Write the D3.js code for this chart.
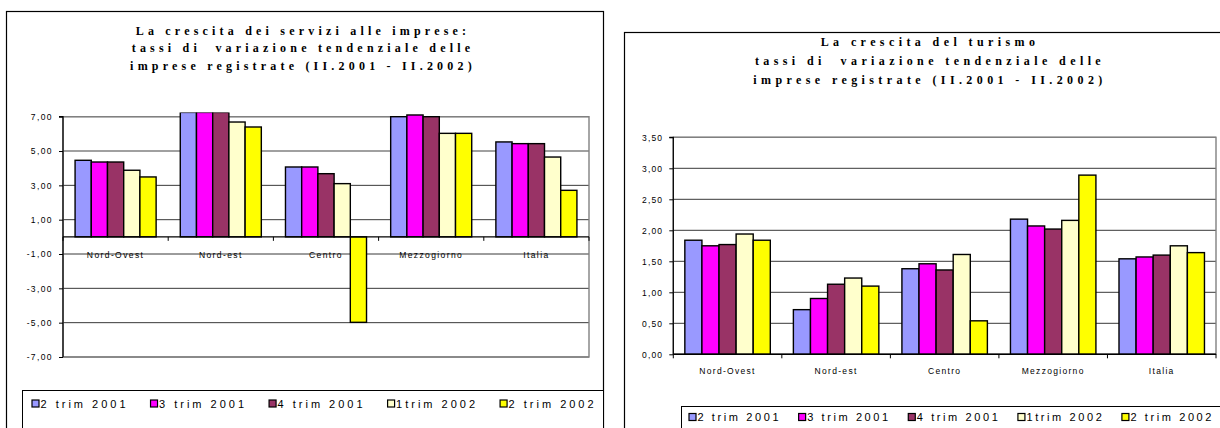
<!DOCTYPE html>
<html>
<head>
<meta charset="utf-8">
<script src="https://cdn.jsdelivr.net/npm/d3@7"></script>
<style>
  html, body { margin: 0; padding: 0; background: #fff; }
  svg { display: block; }
  text { white-space: pre; }
</style>
</head>
<body>
<svg id="chart" width="1220" height="428"></svg>
<script>
// ---------- DATA ----------
const categories = ["Nord-Ovest", "Nord-est", "Centro", "Mezzogiorno", "Italia"];
const seriesNames = ["2 trim 2001", "3 trim 2001", "4 trim 2001", "1trim 2002", "2 trim 2002"];
const seriesColors = ["#9999FF", "#FF00FF", "#993366", "#FFFFCC", "#FFFF00"];

// Servizi alle imprese (left chart) – Nord-est first three bars run past the top of the axis
const servizi_2trim2001 = [4.46, 7.25, 4.07, 7.00, 5.53];
const servizi_3trim2001 = [4.36, 7.25, 4.07, 7.10, 5.43];
const servizi_4trim2001 = [4.36, 7.25, 3.68, 7.00, 5.43];
const servizi_1trim2002 = [3.88, 6.69, 3.10, 6.03, 4.65];
const servizi_2trim2002 = [3.49, 6.40, -4.98, 6.03, 2.71];
const serviziTicks = [-7, -5, -3, -1, 1, 3, 5, 7];
const serviziTitle = ["La crescita dei servizi alle imprese:",
                      "tassi di  variazione tendenziale delle",
                      "imprese registrate (II.2001 - II.2002)"];

// Turismo (right chart)
const turismo_2trim2001 = [1.84, 0.72, 1.38, 2.18, 1.54];
const turismo_3trim2001 = [1.75, 0.90, 1.46, 2.07, 1.57];
const turismo_4trim2001 = [1.77, 1.13, 1.36, 2.02, 1.60];
const turismo_1trim2002 = [1.94, 1.23, 1.61, 2.16, 1.75];
const turismo_2trim2002 = [1.84, 1.10, 0.54, 2.89, 1.64];
const turismoTicks = [0, 0.5, 1, 1.5, 2, 2.5, 3, 3.5];
const turismoTitle = ["La crescita del turismo",
                      "tassi di  variazione tendenziale delle",
                      "imprese registrate (II.2001 - II.2002)"];

// ---------- DRAWING ----------
const svg = d3.select("#chart");
const fmt = v => d3.format(".2f")(v).replace(".", ",").replace("−", "-");

function drawChart(o) {
  const g = svg.append("g");
  // outer frame
  g.append("rect").attr("x", o.frame[0]).attr("y", o.frame[1])
    .attr("width", o.frame[2]).attr("height", o.frame[3])
    .attr("fill", "#fff").attr("stroke", "#000").attr("stroke-width", 1.2);

  // title
  g.append("g").selectAll("text").data(o.title).join("text")
    .attr("x", o.titleX).attr("y", (d, i) => o.titleY + i * o.titleDy)
    .attr("text-anchor", "middle")
    .attr("font-family", "Liberation Serif, serif").attr("font-weight", "bold")
    .attr("font-size", 12).attr("letter-spacing", o.titleLs)
    .attr("fill", "#000").text(d => d);

  const y = d3.scaleLinear().domain(o.yDomain).range([o.bottom, o.top]);
  const x0 = d3.scaleBand().domain(categories).range([o.left, o.right]).padding(0);
  const x1 = d3.scaleBand().domain(seriesNames).range([0, x0.bandwidth()])
    .paddingInner(0).paddingOuter(o.outerPad);

  // gridlines
  g.append("g").selectAll("line").data(o.ticks).join("line")
    .attr("x1", o.left).attr("x2", o.right)
    .attr("y1", d => y(d)).attr("y2", d => y(d))
    .attr("stroke", d => o.grayGrid.includes(d) ? "#808080" : "#222")
    .attr("stroke-width", d => o.grayGrid.includes(d) ? 1.6 : 0.9);

  // plot border in gray
  g.append("rect").attr("x", o.left).attr("y", o.top)
    .attr("width", o.right - o.left).attr("height", o.bottom - o.top)
    .attr("fill", "none").attr("stroke", "#808080").attr("stroke-width", 1.4);

  // category labels
  g.append("g").selectAll("text").data(categories).join("text")
    .attr("x", d => x0(d) + x0.bandwidth() / 2)
    .attr("y", o.catLabelY)
    .attr("text-anchor", "middle")
    .attr("font-family", "Liberation Sans, Arial, sans-serif")
    .attr("font-size", 8.5).attr("letter-spacing", o.catLs).attr("fill", "#000")
    .text(d => d);

  // bars
  const clipId = "clip" + o.id;
  svg.append("defs").append("clipPath").attr("id", clipId)
    .append("rect").attr("x", o.left).attr("y", y(o.clipMax))
    .attr("width", o.right - o.left).attr("height", o.bottom - y(o.clipMax) + 2);

  const bars = g.append("g").attr("clip-path", `url(#${clipId})`);
  o.series.forEach((vals, si) => {
    bars.append("g").selectAll("rect").data(vals.map((v, ci) => ({v, c: categories[ci]})))
      .join("rect")
      .attr("x", d => x0(d.c) + x1(seriesNames[si]))
      .attr("y", d => y(Math.max(0, d.v)))
      .attr("width", x1.bandwidth())
      .attr("height", d => Math.abs(y(d.v) - y(0)))
      .attr("fill", seriesColors[si])
      .attr("stroke", "#000").attr("stroke-width", 1.4);
  });

  // y axis
  const yAxis = d3.axisLeft(y).tickValues(o.ticks).tickSize(4).tickPadding(6).tickFormat(fmt);
  const ya = g.append("g").attr("transform", `translate(${o.left},0)`).call(yAxis);
  ya.select(".domain").attr("stroke", "#000").attr("stroke-width", 1.2)
    .attr("d", `M-4,${y(o.ticks[o.ticks.length - 1])}H0V${o.bottom}`);
  ya.selectAll(".tick line").attr("stroke", "#000");
  ya.selectAll(".tick text")
    .attr("font-family", "Liberation Sans, Arial, sans-serif")
    .attr("font-size", 8.5).attr("letter-spacing", o.tickLs).attr("fill", "#000");

  // x axis (zero line) with category-boundary ticks
  const xa = g.append("g");
  xa.append("line").attr("x1", o.left).attr("x2", o.right)
    .attr("y1", y(0)).attr("y2", y(0)).attr("stroke", "#000").attr("stroke-width", 1.4);
  const bounds = categories.map(c => x0(c)).concat([o.right]);
  xa.selectAll("line.t").data(bounds).join("line").attr("class", "t")
    .attr("x1", d => d).attr("x2", d => d)
    .attr("y1", y(0)).attr("y2", y(0) + 4).attr("stroke", "#000").attr("stroke-width", 1);

  // legend
  const lg = g.append("g");
  lg.append("rect").attr("x", o.legendBox[0]).attr("y", o.legendBox[1])
    .attr("width", o.legendBox[2]).attr("height", o.legendBox[3])
    .attr("fill", "#fff").attr("stroke", "#000").attr("stroke-width", 1);
  let lx = o.legendX;
  seriesNames.forEach((name, i) => {
    lg.append("rect").attr("x", lx).attr("y", o.legendY - 4)
      .attr("width", 7).attr("height", 7)
      .attr("fill", seriesColors[i]).attr("stroke", "#000").attr("stroke-width", 1.2);
    const t = lg.append("text").attr("x", lx + 8.5).attr("y", o.legendY + 3.5)
      .attr("font-family", "Liberation Sans, Arial, sans-serif")
      .attr("font-size", o.legendFs).attr("letter-spacing", o.legendLs).attr("fill", "#000")
      .text(name);
    lx += 8.5 + t.node().getComputedTextLength() + o.legendGap;
  });
}

drawChart({
  id: "L",
  frame: [6.5, 11.5, 597, 500],
  title: serviziTitle, titleX: 303, titleY: 35, titleDy: 17.3, titleLs: 4.2,
  yDomain: [-7, 7], top: 116.7, bottom: 357, left: 63, right: 589,
  ticks: serviziTicks, grayGrid: [5, -7], outerPad: 0.745, clipMax: 7.25,
  series: [servizi_2trim2001, servizi_3trim2001, servizi_4trim2001, servizi_1trim2002, servizi_2trim2002],
  catLabelY: 257.5, catLs: 1.4, tickLs: 1.4,
  legendBox: [22.5, 390.5, 581, 80], legendX: 32, legendY: 404,
  legendFs: 11, legendLs: 3.0, legendGap: 22
});

drawChart({
  id: "R",
  frame: [624.5, 32.5, 700, 500],
  title: turismoTitle, titleX: 930, titleY: 46, titleDy: 19, titleLs: 4.4,
  yDomain: [0, 3.5], top: 137.3, bottom: 354.3, left: 673.3, right: 1216,
  ticks: turismoTicks, grayGrid: [], outerPad: 0.675, clipMax: 3.6,
  series: [turismo_2trim2001, turismo_3trim2001, turismo_4trim2001, turismo_1trim2002, turismo_2trim2002],
  catLabelY: 374, catLs: 1.3, tickLs: 1.2,
  legendBox: [681.5, 406.5, 600, 80], legendX: 689, legendY: 417.5,
  legendFs: 11, legendLs: 2.6, legendGap: 17.5
});
</script>
</body>
</html>
